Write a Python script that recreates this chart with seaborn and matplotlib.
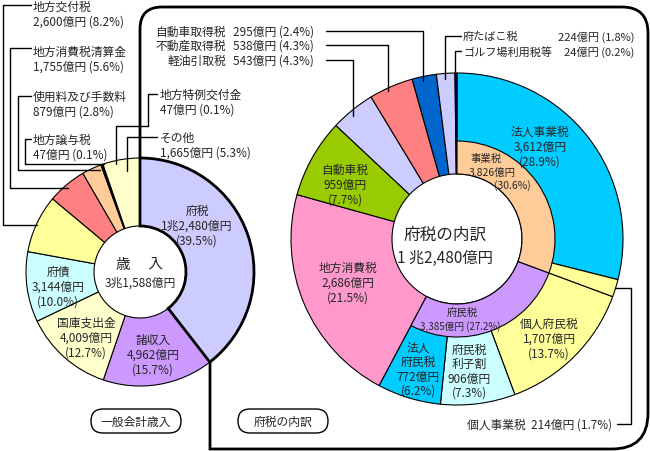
import matplotlib
matplotlib.use("Agg")
import matplotlib.pyplot as plt
from matplotlib.path import Path
from matplotlib.patches import PathPatch, FancyBboxPatch
import seaborn as sns

# 一般会計歳入 (億円)
rev_names = ["府税", "諸収入", "国庫支出金", "府債", "地方交付税", "地方消費税清算金",
             "使用料及び手数料", "地方譲与税", "地方特例交付金", "その他"]
rev_values = [12480, 4962, 4009, 3144, 2600, 1755, 879, 47, 47, 1665]
rev_pct = ["39.5", "15.7", "12.7", "10.0", "8.2", "5.6", "2.8", "0.1", "0.1", "5.3"]
rev_colors = ["#ccccff", "#cc99ff", "#ffffcc", "#ccffff", "#ffff99", "#ff8080",
              "#ffcc99", "#66cccc", "#ccffff", "#ffffcc"]

# 府税の内訳 (億円)
tax_names = ["法人事業税", "個人事業税", "個人府民税", "府民税利子割", "法人府民税", "地方消費税",
             "自動車税", "軽油引取税", "不動産取得税", "自動車取得税", "府たばこ税", "ゴルフ場利用税等"]
tax_values = [3612, 214, 1707, 906, 772, 2686, 959, 543, 538, 295, 224, 24]
tax_pct = ["28.9", "1.7", "13.7", "7.3", "6.2", "21.5", "7.7", "4.3", "4.3", "2.4", "1.8", "0.2"]
tax_colors = ["#00ccff", "#ffff99", "#ffff99", "#ccffff", "#00ccff", "#ff99cc",
              "#99cc00", "#ccccff", "#ff8080", "#0066cc", "#ccccff", "#000080"]

group_names = ["事業税", "府民税"]
group_values = [3826, 3385]
group_pct = ["30.6", "27.2"]
group_colors = ["#ffcc99", "#cc99ff"]


def oku(v):
    if v >= 10000:
        return f"{v // 10000}兆{v % 10000:,}億円"
    return f"{v:,}億円"


def pct(p):
    return f"({p}%)"


sns.set_theme(style="white")
plt.rcParams["font.family"] = ["Noto Sans CJK JP", "DejaVu Sans"]

fig = plt.figure(figsize=(6.5, 4.52), dpi=100)
ax = fig.add_axes([0, 0, 1, 1])

# left donut (y axis is flipped later, so ccw in data = clockwise on screen)
wl, _ = ax.pie(rev_values, colors=rev_colors, radius=114, center=(140, 273),
               startangle=-90, counterclock=True,
               wedgeprops=dict(width=68, edgecolor="black", linewidth=0.8))
wl[0].set_linewidth(2)
wl[0].set_zorder(3)

# right donut, outer ring
wr, _ = ax.pie(tax_values, colors=tax_colors, radius=166, center=(457, 240),
               startangle=-90, counterclock=True,
               wedgeprops=dict(width=101, edgecolor="black", linewidth=0.8))
# inner ring (事業税 / 府民税)
rest = sum(tax_values) - sum(group_values)
wi, _ = ax.pie(group_values + [rest], colors=group_colors + ["none"], radius=98,
               center=(457, 240), startangle=-90, counterclock=True,
               wedgeprops=dict(width=33, edgecolor="black", linewidth=0.8))
wi[-1].set_visible(False)
for w in wi:
    w.set_zorder(2)

ax.set_xlim(0, 650)
ax.set_ylim(452, 0)
ax.set_aspect("equal")
ax.axis("off")

# callout frame around 府税の内訳
verts = [(140, 158), (140, 30), (140, 8), (162, 8), (622, 8), (648, 8), (648, 34),
         (648, 414), (648, 450), (612, 450), (210, 450), (210, 363)]
codes = [Path.MOVETO, Path.LINETO, Path.CURVE3, Path.CURVE3, Path.LINETO, Path.CURVE3,
         Path.CURVE3, Path.LINETO, Path.CURVE3, Path.CURVE3, Path.LINETO, Path.LINETO]
ax.add_patch(PathPatch(Path(verts, codes), fill=False, lw=2, edgecolor="black", zorder=4))

fs = 8.5
sfs = 7.5


def stack(x, y, lines, size=fs, dy=15, ha="center"):
    for i, s in enumerate(lines):
        ax.text(x, y + i * dy, s, ha=ha, va="center", fontsize=size, zorder=5)


def leader(pts):
    xs, ys = zip(*pts)
    ax.plot(xs, ys, color="black", lw=1, zorder=5)


# left labels inside
stack(197, 211, [rev_names[0], oku(rev_values[0]), pct(rev_pct[0])])
stack(153, 340, [rev_names[1], oku(rev_values[1]), pct(rev_pct[1])])
stack(86, 323, [rev_names[2], oku(rev_values[2]), pct(rev_pct[2])])
stack(58, 272, [rev_names[3], oku(rev_values[3]), pct(rev_pct[3])])
ax.text(140, 265, "歳　 入", ha="center", va="center", fontsize=10.5, zorder=5)
ax.text(140, 283, oku(sum(rev_values)), ha="center", va="center", fontsize=fs, zorder=5)

# left labels with leaders
for (i, y) in [(4, 7), (5, 52), (6, 97), (7, 140)]:
    ax.text(33, y, rev_names[i], ha="left", va="center", fontsize=fs, zorder=5)
    ax.text(33, y + 15, f"{oku(rev_values[i])} {pct(rev_pct[i])}", ha="left", va="center",
            fontsize=fs, zorder=5)
for (i, y) in [(8, 95), (9, 138)]:
    ax.text(160, y, rev_names[i], ha="left", va="center", fontsize=fs, zorder=5)
    ax.text(160, y + 15, f"{oku(rev_values[i])} {pct(rev_pct[i])}", ha="left", va="center",
            fontsize=fs, zorder=5)
leader([(31, 6), (3, 6), (3, 226), (37, 226)])
leader([(31, 49), (10, 49), (10, 189), (68, 189)])
leader([(31, 97), (18, 97), (18, 171), (100, 171)])
leader([(31, 140), (25, 140), (25, 165), (104, 165)])
leader([(157, 95), (148, 95), (148, 127), (116, 127), (116, 165)])
leader([(157, 138), (127, 138), (127, 172)])

# right labels inside
stack(540, 132, [tax_names[0], oku(tax_values[0]), pct(tax_pct[0])])
stack(549, 324, [tax_names[2], oku(tax_values[2]), pct(tax_pct[2])])
stack(469, 350, ["府民税", "利子割", oku(tax_values[3]), pct(tax_pct[3])], dy=14.5)
stack(418, 348, ["法人", "府民税", oku(tax_values[4]), pct(tax_pct[4])], dy=14.5)
stack(348, 268, [tax_names[5], oku(tax_values[5]), pct(tax_pct[5])])
stack(345, 170, [tax_names[6], oku(tax_values[6]), pct(tax_pct[6])])
ax.text(486, 159, group_names[0], ha="center", va="center", fontsize=sfs, zorder=5)
ax.text(492, 172, oku(group_values[0]), ha="center", va="center", fontsize=sfs, zorder=5)
ax.text(512, 186, pct(group_pct[0]), ha="center", va="center", fontsize=sfs, zorder=5)
ax.text(462, 313, group_names[1], ha="center", va="center", fontsize=sfs, zorder=5)
ax.text(460, 327, f"{oku(group_values[1])} {pct(group_pct[1])}", ha="center", va="center",
        fontsize=7, zorder=5)
ax.text(445, 235, "府税の内訳", ha="center", va="center", fontsize=12, zorder=5)
ax.text(445, 258, oku(sum(tax_values)).replace("兆", " 兆", 1), ha="center", va="center",
        fontsize=11, zorder=5)

# right labels with leaders
for (i, y) in [(9, 32), (8, 46), (7, 61)]:
    ax.text(226, y, tax_names[i], ha="right", va="center", fontsize=fs, zorder=5)
    ax.text(233, y, f"{oku(tax_values[i])} {pct(tax_pct[i])}", ha="left", va="center",
            fontsize=fs, zorder=5)
for (i, y) in [(10, 37), (11, 52)]:
    ax.text(463, y, tax_names[i], ha="left", va="center", fontsize=8, zorder=5)
    ax.text(634, y, f"{oku(tax_values[i])} {pct(tax_pct[i])}", ha="right", va="center",
            fontsize=8, zorder=5)
ax.text(467, 425, f"{tax_names[1]}  {oku(tax_values[1])} {pct(tax_pct[1])}", ha="left",
        va="center", fontsize=fs, zorder=5)
leader([(326, 32), (423, 32), (423, 82)])
leader([(326, 46), (388, 46), (388, 92)])
leader([(326, 61), (353, 61), (353, 117)])
leader([(461, 37), (445, 37), (445, 80)])
leader([(461, 52), (455, 52), (455, 80)])
leader([(617, 425), (631, 425), (631, 289), (615, 289)])

# captions
for (cx, s) in [(136, "一般会計歳入"), (283, "府税の内訳")]:
    ax.add_patch(FancyBboxPatch((cx - 45, 410), 90, 24,
                                boxstyle="round,pad=0,rounding_size=12",
                                fill=False, edgecolor="black", lw=1, zorder=5))
    ax.text(cx, 422, s, ha="center", va="center", fontsize=fs, zorder=5)

fig.savefig("out.png", dpi=100)
